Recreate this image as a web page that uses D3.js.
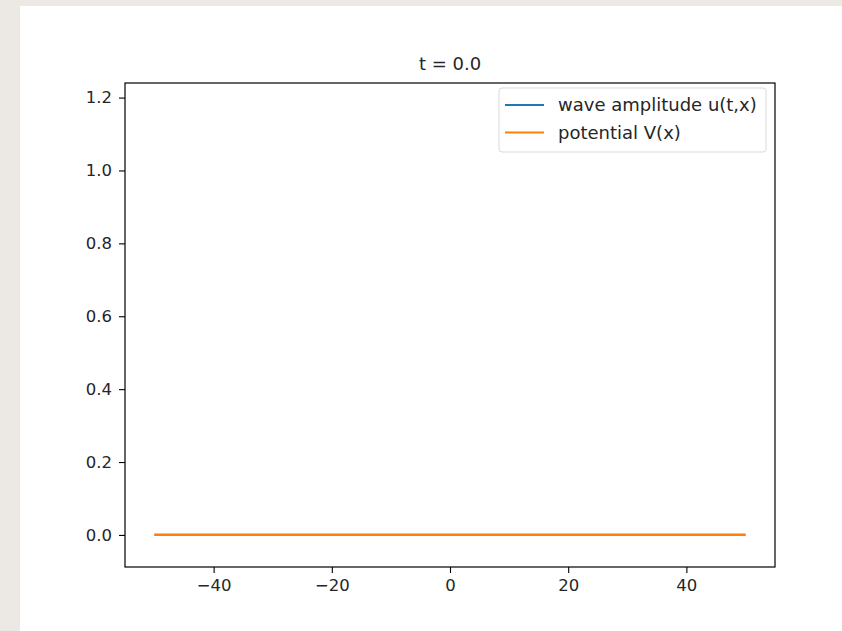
<!DOCTYPE html>
<html>
<head>
<meta charset="utf-8">
<script src="https://cdn.jsdelivr.net/npm/d3@7"></script>
<style>
  body { margin: 0; background: #ece9e4; }
  #card { position: absolute; left: 20px; top: 6px; width: 822px; height: 625px; background: #fff; }
  svg { position: absolute; left: 0; top: 0; }
  text { font-family: "DejaVu Sans", sans-serif; fill: #262626; }
</style>
</head>
<body>
<div id="card"></div>
<svg id="chart" width="842" height="631"></svg>
<script>
var xs = [-50, -25, 0, 25, 50];
var waveAmp = [0, 0, 0, 0, 0];
var potential = [0, 0, 0, 0, 0];
var xTicks = [-40, -20, 0, 20, 40];
var yTicks = [0.0, 0.2, 0.4, 0.6, 0.8, 1.0, 1.2];
var seriesNames = ["wave amplitude u(t,x)", "potential V(x)"];
var seriesColors = ["#1f77b4", "#ff7f0e"];
var title = "t = 0.0";

var margin = { top: 83, left: 125, right: 842 - 775, bottom: 631 - 567 };
var width = 842 - margin.left - margin.right,
    height = 631 - margin.top - margin.bottom;

var svg = d3.select("#chart");
var g = svg.append("g")
    .attr("transform", "translate(" + margin.left + "," + margin.top + ")");

var x = d3.scaleLinear().domain([-55, 55]).range([0, width]);
var y = d3.scaleLinear().domain([-0.088, 1.24]).range([height, 0]);

var line = d3.line()
    .x(function(d) { return x(d.x); })
    .y(function(d) { return y(d.v); });

[waveAmp, potential].forEach(function(vals, i) {
    var data = xs.map(function(xv, j) { return { x: xv, v: vals[j] }; });
    g.append("path")
        .datum(data)
        .attr("fill", "none")
        .attr("stroke", seriesColors[i])
        .attr("stroke-width", 2.2)
        .attr("d", line);
});

var xAxis = g.append("g")
    .attr("transform", "translate(0," + height + ")")
    .call(d3.axisBottom(x).tickValues(xTicks).tickSize(6).tickPadding(6)
        .tickFormat(function(d) { return d < 0 ? "\u2212" + Math.abs(d) : d; }));
var yAxis = g.append("g")
    .call(d3.axisLeft(y).tickValues(yTicks).tickSize(6).tickPadding(7).tickFormat(d3.format(".1f")));

[xAxis, yAxis].forEach(function(ax) {
    ax.select(".domain").remove();
    ax.selectAll("line").attr("stroke", "#000").attr("stroke-width", 1.1);
    ax.selectAll("text").attr("font-size", 16.5).attr("font-family", "DejaVu Sans").attr("fill", "#262626");
});

// frame
g.append("rect")
    .attr("x", 0).attr("y", 0)
    .attr("width", width).attr("height", height)
    .attr("fill", "none")
    .attr("stroke", "#000")
    .attr("stroke-width", 1.2);

// title
g.append("text")
    .attr("x", width / 2)
    .attr("y", -13)
    .attr("text-anchor", "middle")
    .attr("font-size", 18)
    .text(title);

// legend
var legend = g.append("g").attr("transform", "translate(" + (499 - margin.left) + "," + (88 - margin.top) + ")");
legend.append("rect")
    .attr("width", 267).attr("height", 64)
    .attr("rx", 3)
    .attr("fill", "#fff")
    .attr("fill-opacity", 0.8)
    .attr("stroke", "#d9d9d9");
seriesNames.forEach(function(name, i) {
    var row = legend.append("g").attr("transform", "translate(0," + (17 + i * 27.5) + ")");
    row.append("line")
        .attr("x1", 6).attr("x2", 45)
        .attr("stroke", seriesColors[i])
        .attr("stroke-width", 2.2);
    row.append("text")
        .attr("x", 59).attr("y", 6)
        .attr("font-size", 18)
        .text(name);
});
</script>
</body>
</html>
